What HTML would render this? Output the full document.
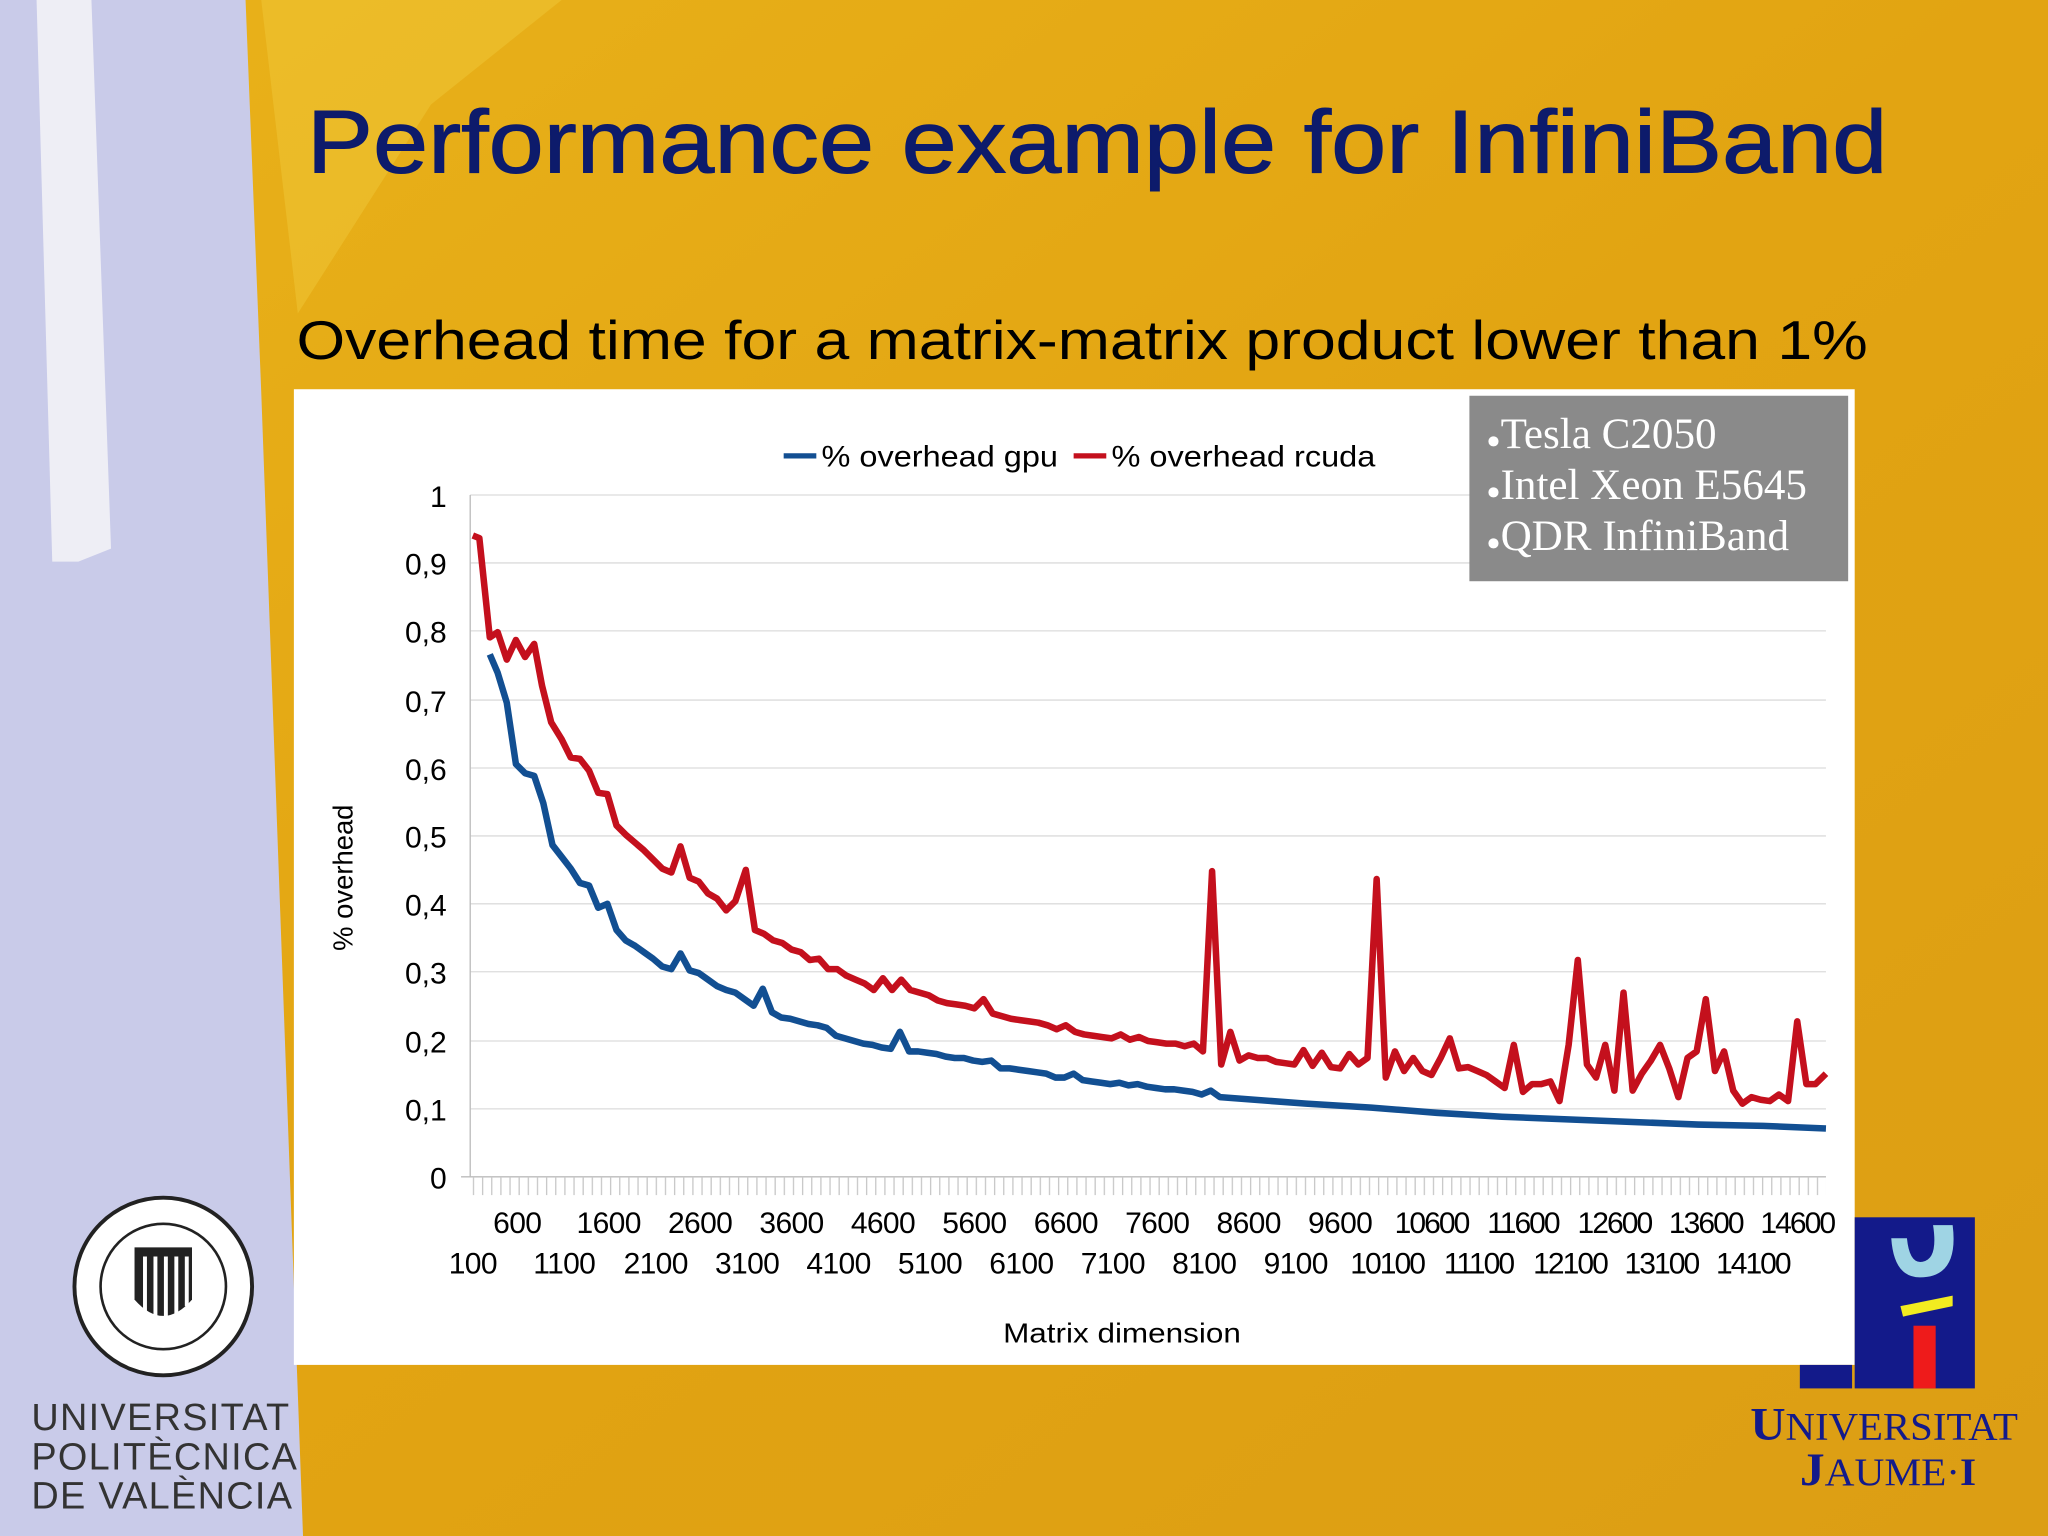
<!DOCTYPE html>
<html><head><meta charset="utf-8"><style>
html,body{margin:0;padding:0;width:2048px;height:1536px;overflow:hidden}
svg{display:block}
</style></head><body>
<svg width="2048" height="1536" viewBox="0 0 1568 1176" xmlns="http://www.w3.org/2000/svg" font-family="Liberation Sans, sans-serif">
<defs>
<linearGradient id="bg" x1="0" y1="0" x2="1" y2="1">
<stop offset="0" stop-color="#e9b21a"/><stop offset="0.5" stop-color="#e2a412"/><stop offset="1" stop-color="#dc9e14"/>
</linearGradient>
<pattern id="tk" x="362" y="0" width="7" height="20" patternUnits="userSpaceOnUse">
<line x1="0.5" y1="0" x2="0.5" y2="20" stroke="#c8c8c8" stroke-width="1"/>
</pattern>
</defs>
<rect width="1568" height="1176" fill="url(#bg)"/>
<polygon points="0,0 188,0 200,300 232,1176 0,1176" fill="#c9cbe9"/>
<polygon points="28,0 70,0 85,420 60,430 40,430" fill="#eeeef5"/>
<polygon points="200,0 430,0 330,80 228,240" fill="#f0c838" opacity="0.5"/>

<text x="235" y="132" font-size="68" fill="#0d1b6b" stroke="#0d1b6b" stroke-width="0.8" textLength="1210" lengthAdjust="spacingAndGlyphs">Performance example for InfiniBand</text>
<text x="227" y="275" font-size="42" fill="#000" textLength="1203" lengthAdjust="spacingAndGlyphs">Overhead time for a matrix-matrix product lower than 1%</text>

<rect x="225" y="298" width="1195" height="747" fill="#fff"/>
<g stroke="#dcdcdc" stroke-width="1">
<line x1="360" y1="379" x2="1398" y2="379"/><line x1="360" y1="431" x2="1398" y2="431"/>
<line x1="360" y1="483" x2="1398" y2="483"/><line x1="360" y1="536" x2="1398" y2="536"/>
<line x1="360" y1="588" x2="1398" y2="588"/><line x1="360" y1="640" x2="1398" y2="640"/>
<line x1="360" y1="692" x2="1398" y2="692"/><line x1="360" y1="744" x2="1398" y2="744"/>
<line x1="360" y1="797" x2="1398" y2="797"/><line x1="360" y1="849" x2="1398" y2="849"/>
</g>
<line x1="360" y1="379" x2="360" y2="901" stroke="#bbb"/>
<line x1="353" y1="901" x2="1398" y2="901" stroke="#bbb"/>
<rect x="360" y="901" width="1038" height="14" fill="url(#tk)"/>
<g font-size="23" text-anchor="end" fill="#000">
<text x="342" y="388">1</text><text x="342" y="440">0,9</text><text x="342" y="492">0,8</text>
<text x="342" y="545">0,7</text><text x="342" y="597">0,6</text><text x="342" y="649">0,5</text>
<text x="342" y="701">0,4</text><text x="342" y="753">0,3</text><text x="342" y="806">0,2</text>
<text x="342" y="858">0,1</text><text x="342" y="910">0</text>
</g>
<g font-size="23" text-anchor="middle" fill="#000" letter-spacing="-0.5">
<text x="396" y="944">600</text><text x="466" y="944">1600</text><text x="536" y="944">2600</text><text x="606" y="944">3600</text><text x="676" y="944">4600</text><text x="746" y="944">5600</text><text x="816" y="944">6600</text><text x="886" y="944">7600</text><text x="956" y="944">8600</text><text x="1026" y="944">9600</text><text x="1096" y="944" letter-spacing="-1.5">10600</text><text x="1166" y="944" letter-spacing="-1.5">11600</text><text x="1236" y="944" letter-spacing="-1.5">12600</text><text x="1306" y="944" letter-spacing="-1.5">13600</text><text x="1376" y="944" letter-spacing="-1.5">14600</text>
<text x="362" y="975">100</text><text x="432" y="975">1100</text><text x="502" y="975">2100</text><text x="572" y="975">3100</text><text x="642" y="975">4100</text><text x="712" y="975">5100</text><text x="782" y="975">6100</text><text x="852" y="975">7100</text><text x="922" y="975">8100</text><text x="992" y="975">9100</text><text x="1062" y="975" letter-spacing="-1.5">10100</text><text x="1132" y="975" letter-spacing="-1.5">11100</text><text x="1202" y="975" letter-spacing="-1.5">12100</text><text x="1272" y="975" letter-spacing="-1.5">13100</text><text x="1342" y="975" letter-spacing="-1.5">14100</text>
</g>
<text x="768" y="1028" font-size="21" textLength="182" lengthAdjust="spacingAndGlyphs">Matrix dimension</text>
<text transform="translate(270,672) rotate(-90)" font-size="21" text-anchor="middle">% overhead</text>

<line x1="600" y1="349" x2="625" y2="349" stroke="#124f92" stroke-width="4"/>
<text x="629" y="357" font-size="23" textLength="181" lengthAdjust="spacingAndGlyphs">% overhead gpu</text>
<line x1="822" y1="349" x2="847" y2="349" stroke="#c4101d" stroke-width="4"/>
<text x="851" y="357" font-size="23" textLength="202" lengthAdjust="spacingAndGlyphs">% overhead rcuda</text>

<polyline fill="none" stroke="#124f92" stroke-width="5" stroke-linejoin="round" points="375,501 381,515 388,538 395,585 402,592 409,594 416,615 423,647 430,656 437,665 444,676 451,678 458,695 465,692 472,712 479,720 486,724 493,729 500,734 507,740 514,742 521,730 528,743 535,745 542,750 549,755 556,758 563,760 570,765 577,770 584,757 591,775 598,779 605,780 612,782 619,784 626,785 633,787 640,793 647,795 654,797 661,799 668,800 675,802 682,803 689,790 696,805 703,805 710,806 717,807 724,809 731,810 738,810 745,812 752,813 759,812 766,818 773,818 780,819 787,820 794,821 801,822 808,825 815,825 822,822 829,827 836,828 843,829 850,830 857,829 864,831 871,830 878,832 885,833 892,834 899,834 906,835 913,836 920,838 927,835 934,840 1000,845 1050,848 1100,852 1150,855 1200,857 1250,859 1300,861 1350,862 1398,864"/>
<polyline fill="none" stroke="#c4101d" stroke-width="5" stroke-linejoin="round" points="362,410 367,412 375,488 381,484 388,505 395,490 402,503 409,493 415,525 422,553 430,566 437,580 444,581 451,590 458,607 465,608 472,632 479,639 486,645 493,651 500,658 507,665 514,668 521,648 528,672 535,675 542,684 549,688 556,697 563,690 571,666 578,712 585,715 592,720 599,722 606,727 613,729 620,735 627,734 634,742 641,742 648,747 655,750 662,753 669,758 676,749 683,758 690,750 697,758 704,760 711,762 718,766 725,768 732,769 739,770 746,772 753,765 760,776 767,778 774,780 781,781 788,782 795,783 802,785 809,788 816,785 823,790 830,792 837,793 844,794 851,795 858,792 865,796 872,794 879,797 886,798 893,799 900,799 907,801 914,799 921,805 928,667 935,815 942,790 949,812 956,808 963,810 970,810 977,813 984,814 991,815 998,804 1005,816 1012,806 1019,817 1026,818 1033,807 1040,815 1047,810 1054,673 1061,825 1068,805 1075,820 1082,810 1089,820 1096,823 1103,810 1110,795 1117,818 1124,817 1131,820 1138,823 1145,828 1152,833 1159,800 1166,836 1173,830 1180,830 1187,828 1194,843 1201,800 1208,735 1215,815 1222,825 1229,800 1236,835 1243,760 1250,835 1257,822 1264,812 1271,800 1278,818 1285,840 1292,810 1299,805 1306,765 1313,820 1320,805 1327,835 1334,845 1341,840 1348,842 1355,843 1362,838 1369,843 1376,782 1383,830 1390,830 1398,822"/>

<rect x="1125" y="303" width="290" height="142" fill="#8a8a8a"/>
<g font-family="Liberation Serif, serif" font-size="33" fill="#fff">
<text x="1138" y="343"><tspan font-size="18">●</tspan>Tesla C2050</text>
<text x="1138" y="382"><tspan font-size="18">●</tspan>Intel Xeon E5645</text>
<text x="1138" y="421"><tspan font-size="18">●</tspan>QDR InfiniBand</text>
</g>

<circle cx="125" cy="985" r="68" fill="#fff" stroke="#222" stroke-width="3"/>
<circle cx="125" cy="985" r="48" fill="none" stroke="#222" stroke-width="2"/>
<path d="M103,955 h44 v40 q-22,25 -44,0 z" fill="#222"/>
<g stroke="#fff" stroke-width="3"><line x1="111" y1="962" x2="111" y2="1005"/><line x1="119" y1="962" x2="119" y2="1010"/><line x1="127" y1="962" x2="127" y2="1010"/><line x1="135" y1="962" x2="135" y2="1008"/><line x1="143" y1="962" x2="143" y2="1000"/></g>
<g font-size="29" fill="#333" letter-spacing="1">
<text x="24" y="1095">UNIVERSITAT</text><text x="24" y="1125">POLITÈCNICA</text><text x="24" y="1155">DE VALÈNCIA</text>
</g>

<rect x="1420" y="932" width="92" height="131" fill="#131a8a"/>
<rect x="1378" y="1045" width="40" height="18" fill="#131a8a"/>
<path d="M1465,938 h30 q5,40 -25,40 q-20,0 -22,-30 h12 q2,20 12,18 q12,-2 8,-28 z" fill="#9fd4e4"/>
<path d="M1455,1000 l40,-8 v8 l-38,8 z" fill="#f2ec20"/>
<rect x="1465" y="1015" width="17" height="48" fill="#ee1b1b"/>
<g font-family="Liberation Serif, serif" fill="#131a8a" font-size="30">
<text x="1340" y="1102" textLength="205" lengthAdjust="spacingAndGlyphs"><tspan font-size="36" font-weight="bold">U</tspan>NIVERSITAT</text>
<text x="1378" y="1137" textLength="135" lengthAdjust="spacingAndGlyphs"><tspan font-size="36" font-weight="bold">J</tspan>AUME·<tspan font-weight="bold">I</tspan></text>
</g>
</svg>
</body></html>
